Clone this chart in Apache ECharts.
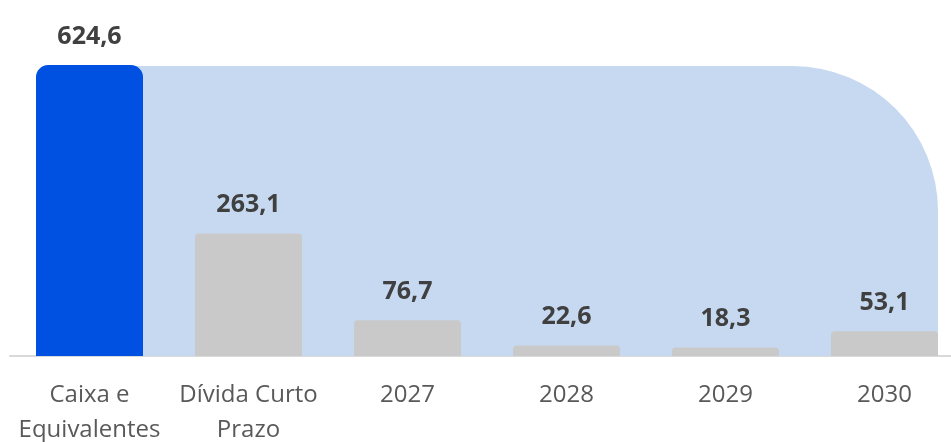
<!DOCTYPE html>
<html>
<head>
<meta charset="utf-8">
<script src="https://cdn.jsdelivr.net/npm/echarts@6/dist/echarts.min.js"></script>
<style>
  html, body { margin: 0; padding: 0; background: #fff; }
  #chart { width: 951px; height: 442px; }
</style>
</head>
<body>
<div id="chart"></div>
<script>
// categorias e valores (R$ mi)
const categories = ['Caixa e\nEquivalentes', 'Dívida Curto\nPrazo', '2027', '2028', '2029', '2030']
const values = [624.6, 263.1, 76.7, 22.6, 18.3, 53.1]
const barColors = ['#0050e1', '#c9c9c9', '#c9c9c9', '#c9c9c9', '#c9c9c9', '#c9c9c9']

const myChart = echarts.init(document.getElementById('chart'))

const barData = values.map((v, i) => ({
  value: v,
  itemStyle: {
    color: barColors[i],
    borderRadius: i === 0 ? [12, 12, 0, 0] : [4, 4, 0, 0],
  },
}))

myChart.setOption({
  animation: false,
  // grid passa um pouco da borda direita, como no original
  grid: { left: 10, width: 954, top: 30, bottom: 86, outerBoundsMode: 'none' },
  xAxis: {
    type: 'category',
    data: categories,
    axisLine: { show: true, lineStyle: { color: '#d9d9d9', width: 2 } },
    axisTick: { show: false },
    axisLabel: {
      color: '#595959',
      fontFamily: 'Open Sans',
      fontSize: 24,
      lineHeight: 35,
      margin: 22,
      interval: 0,
    },
  },
  yAxis: { type: 'value', min: 0, max: 700, show: false },
  series: [
    {
      // fundo azul claro com canto arredondado
      type: 'custom',
      z: 1,
      clip: false,
      silent: true,
      data: [[0, values[0]]],
      renderItem: function (params, api) {
        const band = api.size([1, 0])[0]
        const half = band * 0.673 / 2
        const topLeft = api.coord([0, api.value(1)])
        const bottomRight = api.coord([categories.length - 1, 0])
        const x0 = topLeft[0]
        const x1 = bottomRight[0] + half
        return {
          type: 'rect',
          shape: {
            x: x0,
            y: topLeft[1] + 1,
            width: x1 - x0,
            height: bottomRight[1] - topLeft[1] - 1,
            r: [0, 145, 0, 0],
          },
          style: { fill: '#c6d9f1' },
        }
      },
    },
    {
      type: 'bar',
      z: 2,
      barWidth: '67.3%',
      data: barData,
      label: {
        show: true,
        position: 'top',
        distance: 16,
        color: '#404040',
        fontFamily: 'Open Sans',
        fontWeight: 'bold',
        fontSize: 25,
        formatter: function (p) {
          return String(p.value).replace('.', ',')
        },
      },
    },
  ],
})
</script>
</body>
</html>
